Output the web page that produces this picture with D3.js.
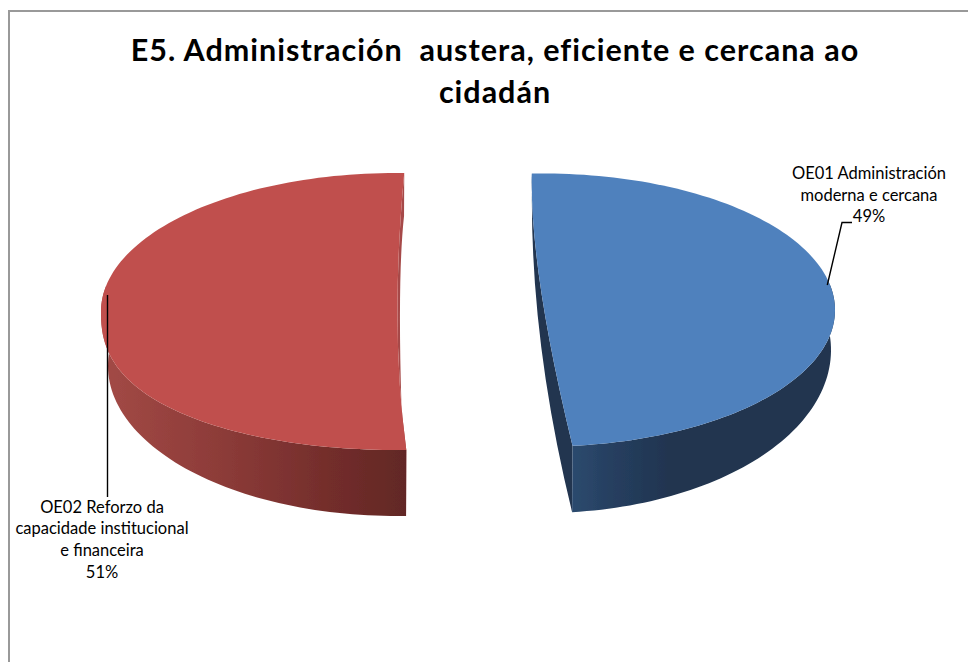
<!DOCTYPE html>
<html>
<head>
<meta charset="utf-8">
<script src="https://cdn.jsdelivr.net/npm/d3@7"></script>
<style>
  html, body { margin: 0; padding: 0; background: #fff; }
  svg { display: block; }
  text { font-family: Lato, Carlito, sans-serif; fill: #000; white-space: pre; }
</style>
</head>
<body>
<div id="chart"></div>
<script>
var titleLines = ["E5. Administración  austera, eficiente e cercana ao", "cidadán"];
var categories = ["OE01 Administración moderna e cercana", "OE02 Reforzo da capacidade institucional e financeira"];
var values = [49, 51];
var labelLines = [
    ["OE01 Administración", "moderna e cercana", "49%"],
    ["OE02 Reforzo da", "capacidade institucional", "e financeira", "51%"]
];
var faceColors = ["#4f81bd", "#c0504d"];
var cutColors = ["#20344f", "#a64a48"];

var width = 968, height = 662;
var rad = Math.PI / 180;

// how each exploded slice sits on the page (top face, bottom rim, cut edge, leader)
var shapes = [
    { cx: 543, cy: 310, rx: 292, ry: 136.5, squash: 1, turn: 0,
      bcx: 543, bcy: 350, brx: 288, bry: 163,
      tip: [541, 290], bottomTip: [541, 345],
      wallStops: [[0, "#2c4a6e"], [0.15, "#263f60"], [0.38, "#20344f"], [1, "#20344f"]],
      leader: [[827.3, 285], [842, 222.5], [852, 222.5]],
      labelX: 869, labelY: 179, labelGap: 21.5 },
    { cx: 396, cy: 311.5, rx: 295, ry: 138.5, squash: 0.82, turn: 3.8,
      bcx: 396, bcy: 366, brx: 288, bry: 150,
      tip: [397.5, 320], bottomTip: [400, 332],
      wallStops: [[0, "#a34a46"], [0.4, "#8c3b38"], [0.75, "#732d2b"], [1, "#622825"]],
      leader: [[107.5, 295], [107.5, 497]],
      labelX: 102, labelY: 512.5, labelGap: 21.7 }
];

var svg = d3.select("#chart").append("svg")
    .attr("width", width)
    .attr("height", height)
    .attr("viewBox", "0 0 " + width + " " + height);

svg.append("rect").attr("width", width).attr("height", height).attr("fill", "#fff");

// chart frame, only top and left are in the picture
svg.append("path")
    .attr("d", "M9," + height + "V11H" + width)
    .attr("fill", "none")
    .attr("stroke", "#999")
    .attr("stroke-width", 2);

var defs = svg.append("defs");
defs.append("filter").attr("id", "soft")
    .append("feGaussianBlur").attr("stdDeviation", 0.55);

var pie = d3.pie().sort(null).startAngle(-2.2 * rad).endAngle(357.8 * rad);
var slices = pie(values);

function rimPoint(s, a) {
    var c = Math.cos(a);
    var k = c < 0 ? Math.pow(-c, s.squash) : -c;
    return [s.cx + s.rx * Math.sin(a), s.cy + s.ry * k];
}

function floorPoint(s, a) {
    return [s.bcx + s.brx * Math.sin(a), s.bcy - s.bry * Math.cos(a)];
}

function angles(a0, a1) {
    return d3.range(0, 121).map(function(i) { return a0 + (a1 - a0) * i / 120; });
}

// control point that makes the bent cut edge pass through the tip
function bend(a, b, t) {
    return [2 * t[0] - (a[0] + b[0]) / 2, 2 * t[1] - (a[1] + b[1]) / 2];
}

var line = d3.line();
var pieG = svg.append("g").attr("filter", "url(#soft)");

slices.forEach(function(d, i) {
    var s = shapes[i];
    var a0 = d.startAngle + s.turn * rad;
    var a1 = d.endAngle + s.turn * rad;
    var g = pieG.append("g").attr("class", "slice");

    var sweep = angles(a0, a1);
    var rim = sweep.map(function(a) { return rimPoint(s, a); });
    var floor = sweep.map(function(a) { return floorPoint(s, a); });
    var rimA = rim[0], rimB = rim[120], floorA = floor[0], floorB = floor[120];

    // the outer wall only shows on the near side of the pie
    var near = sweep.filter(function(a) { return Math.cos(a) < 0.2; });
    var nearRim = near.map(function(a) { return rimPoint(s, a); });
    var nearFloor = near.map(function(a) { return floorPoint(s, a); });

    var gradId = "wall" + i;
    var xs = d3.extent(nearFloor.concat(nearRim), function(p) { return p[0]; });
    var grad = defs.append("linearGradient").attr("id", gradId)
        .attr("gradientUnits", "userSpaceOnUse")
        .attr("x1", xs[0]).attr("x2", xs[1]);
    s.wallStops.forEach(function(st) {
        grad.append("stop").attr("offset", st[0]).attr("stop-color", st[1]);
    });

    // cut wall, seen below the top face edge
    var c1 = bend(floorA, floorB, s.bottomTip);
    var c2 = bend(rimA, rimB, s.tip);
    var cut = d3.path();
    cut.moveTo(floorA[0], floorA[1]);
    cut.quadraticCurveTo(c1[0], c1[1], floorB[0], floorB[1]);
    cut.lineTo(rimB[0], rimB[1]);
    cut.quadraticCurveTo(c2[0], c2[1], rimA[0], rimA[1]);
    cut.closePath();
    g.append("path").attr("d", cut.toString()).attr("fill", cutColors[i]);

    // outer wall
    g.append("path")
        .attr("d", line(nearRim.concat(nearFloor.slice().reverse())) + "Z")
        .attr("fill", "url(#" + gradId + ")");

    // top face
    var face = d3.path();
    face.moveTo(rimA[0], rimA[1]);
    rim.slice(1).forEach(function(p) { face.lineTo(p[0], p[1]); });
    face.quadraticCurveTo(c2[0], c2[1], rimA[0], rimA[1]);
    face.closePath();
    g.append("path").attr("d", face.toString()).attr("fill", faceColors[i])
        .append("title").text(categories[i]);
});

// leader lines and labels
slices.forEach(function(d, i) {
    var s = shapes[i];
    svg.append("path")
        .attr("d", line(s.leader))
        .attr("fill", "none")
        .attr("stroke", "#000")
        .attr("stroke-width", 1.4);

    svg.append("g").selectAll("text")
        .data(labelLines[i])
        .enter().append("text")
        .attr("x", s.labelX)
        .attr("y", function(t, j) { return s.labelY + j * s.labelGap; })
        .attr("text-anchor", "middle")
        .attr("font-size", 16.5)
        .text(function(t) { return t; });
});

svg.append("g").selectAll("text")
    .data(titleLines)
    .enter().append("text")
    .attr("x", 495)
    .attr("y", function(t, j) { return 61 + j * 42; })
    .attr("text-anchor", "middle")
    .attr("font-size", 30.5)
    .attr("letter-spacing", 1)
    .attr("font-weight", 700)
    .text(function(t) { return t; });
</script>
</body>
</html>
